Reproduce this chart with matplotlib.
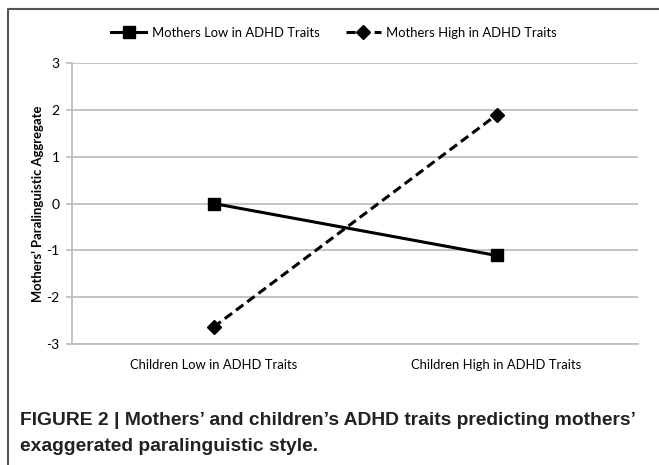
import numpy as np
import matplotlib
matplotlib.use("Agg")
import matplotlib.pyplot as plt
from matplotlib.lines import Line2D

##### data
categories = ["Children Low in ADHD Traits", "Children High in ADHD Traits"]
low_mothers = [0.0, -1.11]
high_mothers = [-2.64, 1.89]
series_names = ["Mothers Low in ADHD Traits", "Mothers High in ADHD Traits"]
yticks = [-3, -2, -1, 0, 1, 2, 3]

fs = 9.4
plt.rcParams['font.family'] = ['Lato', 'DejaVu Sans']
plt.rcParams['font.size'] = fs

W, H = 659, 465
fig = plt.figure(figsize=(W/100, H/100), dpi=100)
ax = fig.add_axes([72/W, 1-344/H, (638-72)/W, (344-63)/H])

x = np.arange(len(categories))
ax.plot(x, low_mothers, color='black', lw=2.2, marker='s', markersize=9,
        label=series_names[0])
ax.plot(x, high_mothers, color='black', lw=2.2, ls=(0, (3, 1.6)), marker='D',
        markersize=7, label=series_names[1])

ax.set_xlim(-0.5, 1.5)
ax.set_ylim(-3, 3)
ax.set_yticks(yticks)
ax.set_yticklabels([str(t) for t in yticks])
ax.set_xticks(x)
ax.set_xticklabels(categories)
ax.yaxis.grid(True, color='#bfbfbf', lw=1.3)
ax.set_axisbelow(True)
for s in ['top', 'right']:
    ax.spines[s].set_visible(False)
for s in ['left', 'bottom']:
    ax.spines[s].set_color('#bfbfbf')
    ax.spines[s].set_linewidth(1.3)
ax.tick_params(axis='y', length=4, color='#bfbfbf', width=1.3, pad=5, labelsize=10)
ax.tick_params(axis='x', length=0, pad=11)
ax.set_ylabel("Mothers' Paralinguistic Aggregate", fontweight='bold')
ax.yaxis.set_label_coords(-0.05, 0.5)

fig.legend(loc='center', bbox_to_anchor=(334/W, 1-33/H), ncol=2, frameon=False,
           handlelength=2.7, columnspacing=2.0, handletextpad=0.4, fontsize=fs)

# frame around the figure panel
fig.add_artist(Line2D([8/W, 8/W, 1], [0, 1-9/H, 1-9/H], color='#555555', lw=1.5,
                      transform=fig.transFigure))

fig.text(20/W, 1-420/H, "FIGURE 2 | Mothers\u2019 and children\u2019s ADHD traits predicting mothers\u2019",
         fontsize=13.9, fontweight='bold', family='Liberation Sans', va='center', color='#222222')
fig.text(20/W, 1-446/H, "exaggerated paralinguistic style.",
         fontsize=13.9, fontweight='bold', family='Liberation Sans', va='center', color='#222222')

plt.savefig("out.png", dpi=100)
